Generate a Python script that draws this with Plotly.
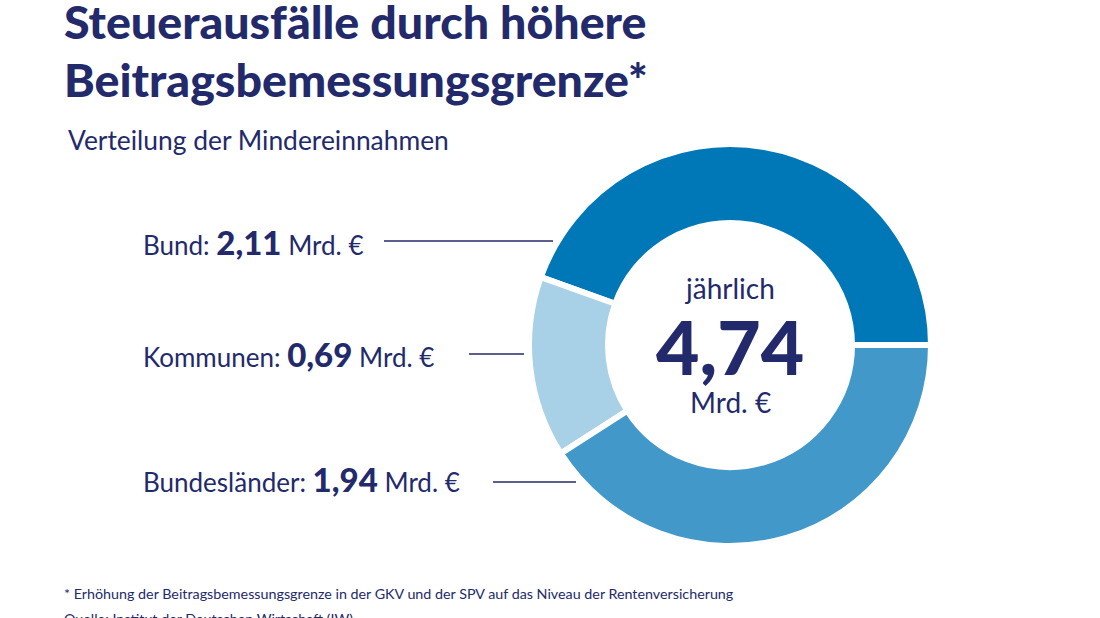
import plotly.graph_objects as go

# ---- data ----
categories = ["Bund", "Kommunen", "Bundesländer"]
values = [2.11, 0.69, 1.94]
value_labels = ["2,11", "0,69", "1,94"]
total_label = "4,74"
colors = ["#0077b6", "#a8d0e6", "#4299c9"]

title_lines = ["Steuerausfälle durch höhere", "Beitragsbemessungsgrenze*"]
subtitle = "Verteilung der Mindereinnahmen"
footnote = "* Erhöhung der Beitragsbemessungsgrenze in der GKV und der SPV auf das Niveau der Rentenversicherung"
source = "Quelle: Institut der Deutschen Wirtschaft (IW)"

W, H = 1100, 618
NAVY = "#232a6b"
FONT = "Lato"


def px(x):
    return x / W


def py(y):
    return 1 - y / H


# donut geometry (pixels)
cx, cy, r = 730, 345, 201

# first slice should run counterclockwise from 3 o'clock;
# plotly places the first slice's trailing edge at `rotation` when counterclockwise
first_angle = 360 * values[0] / sum(values)
rotation = 90 - first_angle

fig = go.Figure()
fig.add_trace(go.Pie(
    labels=categories,
    values=values,
    sort=False,
    direction="counterclockwise",
    rotation=rotation,
    hole=0.607,
    marker=dict(colors=colors, line=dict(color="white", width=6)),
    textinfo="none",
    hoverinfo="label+value",
    showlegend=False,
    domain=dict(x=[px(cx - r), px(cx + r)], y=[py(cy + r), py(cy - r)]),
))

ann = []
ann.append(dict(text=title_lines[0], x=px(62), y=py(21), font=dict(size=46.5, color=NAVY, weight=900)))
ann.append(dict(text=title_lines[1], x=px(62), y=py(79), font=dict(size=46.5, color=NAVY, weight=900)))
ann.append(dict(text=subtitle, x=px(66), y=py(140), font=dict(size=26.4, color=NAVY)))

label_y = [242, 354, 479]
line_x = [(384, 553), (469, 524), (493, 576)]
line_y = [241, 354, 482]
for cat, vl, ly in zip(categories, value_labels, label_y):
    ann.append(dict(
        text=f"{cat}: <span style='font-size:33px;font-weight:900'>{vl}</span> Mrd. €",
        x=px(141), y=py(ly), font=dict(size=26, color=NAVY)))

shapes = []
for (x0, x1), yy in zip(line_x, line_y):
    shapes.append(dict(type="line", xref="paper", yref="paper",
                       x0=px(x0), x1=px(x1), y0=py(yy), y1=py(yy),
                       line=dict(color=NAVY, width=1.5)))

ann.append(dict(text="jährlich", x=px(cx), y=py(288), xanchor="center", font=dict(size=28, color=NAVY)))
ann.append(dict(text=total_label, x=px(cx), y=py(346), xanchor="center", font=dict(size=75, color=NAVY, weight=900)))
ann.append(dict(text="Mrd. €", x=px(cx), y=py(402), xanchor="center", font=dict(size=28, color=NAVY)))

ann.append(dict(text=footnote, x=px(62), y=py(593), font=dict(size=14.3, color=NAVY)))
ann.append(dict(text=source, x=px(62), y=py(618), font=dict(size=14.3, color=NAVY)))

for a in ann:
    a.setdefault("xanchor", "left")
    a.update(xref="paper", yref="paper", yanchor="middle", showarrow=False)
    a["font"]["family"] = FONT

fig.update_layout(
    width=W, height=H,
    margin=dict(l=0, r=0, t=0, b=0),
    paper_bgcolor="white", plot_bgcolor="white",
    annotations=ann, shapes=shapes,
    font=dict(family=FONT, color=NAVY),
)

fig.write_html("out.html", config={"displayModeBar": False})
